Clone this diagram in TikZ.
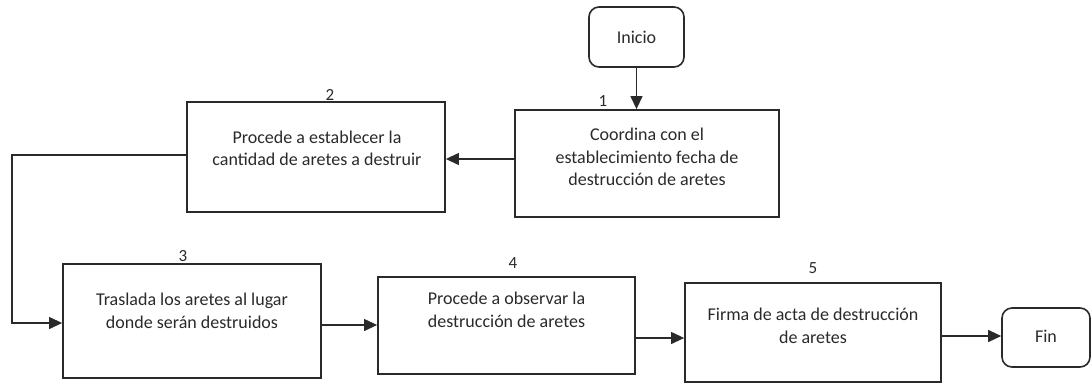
\documentclass[tikz,border=0pt]{standalone}
\usepackage{fontspec}
\setmainfont{Carlito}
\usetikzlibrary{arrows.meta}
\definecolor{ink}{HTML}{2A2A2A}
\tikzset{
  box/.style={draw=ink, line width=1.8pt, minimum width=#1, inner sep=0pt},
  term/.style={draw=ink, line width=1.6pt, rounded corners=10pt, inner sep=0pt},
  txt/.style={text=ink, align=center, font=\fontsize{18}{22.5}\selectfont, inner sep=0pt},
  num/.style={text=ink, font=\fontsize{17}{20}\selectfont, inner sep=0pt},
  arr/.style={draw=ink, line width=1.2pt, -{Triangle[length=13pt,width=12pt]}},
  ln/.style={draw=ink, line width=1.2pt}
}
\begin{document}
\begin{tikzpicture}[x=1pt,y=1pt]
\useasboundingbox[fill=white] (0,0) rectangle (1092,-384);
% terminals
\node[term, minimum width=95pt, minimum height=60pt] (ini) at (636.5,-37) {};
\node[txt] (init) at (636.5,-37) {Inicio};
\node[term, minimum width=88pt, minimum height=59pt] (fin) at (1046,-337.5) {};
\node[txt] (fint) at (1046,-336) {Fin};
% process boxes
\node[box=264pt, minimum height=107pt] (b1) at (647,-163.5) {};
\node[txt] (b1t) at (647,-157) {Coordina con el\\establecimiento fecha de\\destrucción de aretes};
\node[box=258pt, minimum height=110pt] (b2) at (316,-157) {};
\node[txt] (b2t) at (317,-148.5) {Procede a establecer la\\cantidad de aretes a destruir};
\node[box=258pt, minimum height=114pt] (b3) at (192,-321) {};
\node[txt] (b3t) at (192,-311) {Traslada los aretes al lugar\\donde serán destruidos};
\node[box=257pt, minimum height=97pt] (b4) at (506.5,-325.5) {};
\node[txt] (b4t) at (506.5,-310) {Procede a observar la\\destrucción de aretes};
\node[box=256pt, minimum height=99pt] (b5) at (813,-332.5) {};
\node[txt] (b5t) at (813,-326) {Firma de acta de destrucción\\de aretes};
% step numbers
\node[num] (n1) at (603,-101) {1};
\node[num] (n2) at (330,-95) {2};
\node[num] (n3) at (183,-256) {3};
\node[num] (n4) at (513,-263) {4};
\node[num] (n5) at (813,-268) {5};
% connectors
\coordinate (lc) at (12,-155);
\coordinate (lb) at (12,-323);
\draw[arr] (ini.south) -- (b1.north -| ini.south);
\draw[arr] (b1.west |- 0,-159) -- (b2.east |- 0,-159);
\draw[arr] (b2.west |- lc) -- (lc) -- (lb) -- (b3.west |- lb);
\draw[arr] (b3.east |- 0,-325) -- (b4.west |- 0,-325);
\draw[arr] (b4.east |- 0,-338) -- (b5.west |- 0,-338);
\draw[arr] (b5.east |- 0,-336) -- (fin.west |- 0,-336);
\end{tikzpicture}
\end{document}
